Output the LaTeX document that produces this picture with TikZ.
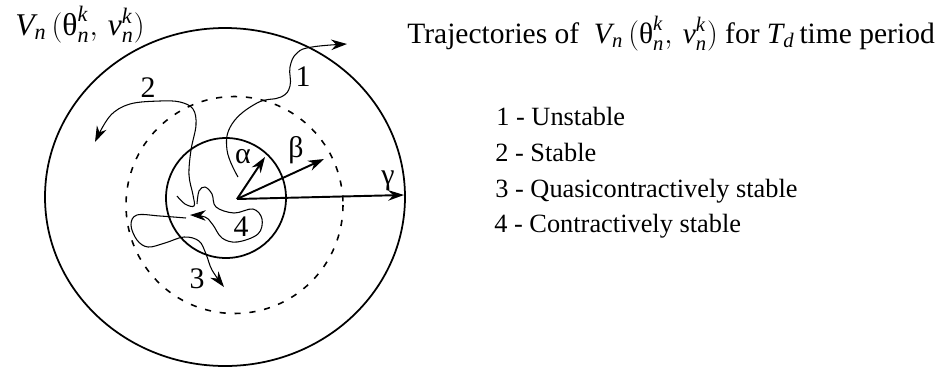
\documentclass[tikz,border=0pt]{standalone}
\usepackage{amsmath}
\usepackage{fontspec}
\setmainfont{Liberation Serif}
\usetikzlibrary{arrows.meta,positioning}

\tikzset{
  traj/.style={line width=0.6pt,-{Stealth[length=9pt,width=6pt]}},
  radarrow/.style={line width=1.1pt,-{Stealth[length=9pt,width=6pt]}},
  region/.style={line width=1pt},
  lbl/.style={font=\fontsize{15}{18}\selectfont,inner sep=0pt},
  biglbl/.style={font=\fontsize{17}{20}\selectfont,inner sep=0pt},
}
\newcommand{\Vfun}{$\mathit{V}_{\mathit{n}}\,(\text{θ}^{\mathit{k}}_{\mathit{n}},\,\mathit{v}^{\mathit{k}}_{\mathit{n}})$}

\begin{document}
\begin{tikzpicture}[x=0.02cm,y=-0.02cm]
  \useasboundingbox (0,0) rectangle (943,366);

  % regions
  \draw[region] (225,197) ellipse [x radius=180,y radius=169];
  \draw[region,line width=0.9pt,dash pattern=on 3.5pt off 5pt] (234.5,205) circle [radius=108.5];
  \draw[region] (226,198) circle [radius=60];

  % radii
  \coordinate (O) at (237,199);
  \coordinate (atip) at (265,157);
  \coordinate (btip) at (324,159);
  \coordinate (gtip) at (404,195);
  \draw[radarrow] (O) -- (atip);
  \draw[radarrow] (O) -- (btip);
  \draw[radarrow] (O) -- (gtip);
  \node[biglbl] (alpha) at (243,157) {α};
  \node[biglbl] (beta) at (296,150) {β};
  \node[biglbl] (gamma) at (388,181) {γ};

  % trajectories
  \draw[traj] plot[smooth,tension=0.7] coordinates {(238,177) (227,150) (232,124) (257,103) (281,97) (290,86) (290,67) (297,53) (312,47) (347,44)};
  \draw[traj] plot[smooth,tension=0.6] coordinates {(177,196) (185,204) (194,206) (193,195) (189,175) (191,150) (196,125) (193,109) (180,102) (160,101) (130,104) (110,116) (95,142)};
  \draw[traj] plot[smooth,tension=0.6] coordinates {(186,218) (160,216) (137,215) (131,225) (137,240) (148,247) (165,243) (184,237) (199,241) (206,254) (212,270) (224,287)};
  \draw[traj] plot[smooth,tension=0.6] coordinates {(197,204) (199,191) (205,187) (212,194) (216,207) (234,213) (253,209) (262,219) (258,234) (237,242) (222,238) (213,225) (205,217) (190,215)};
  \node[biglbl] (n1) at (303,77) {1};
  \node[biglbl] (n2) at (148,88) {2};
  \node[biglbl] (n3) at (197,279) {3};
  \node[biglbl] (n4) at (241,227) {4};

  % texts
  \node[biglbl,font=\fontsize{18}{21}\selectfont,anchor=base west] (vlabel) at (15,35) {\Vfun};
  \node[biglbl,font=\fontsize{16.8}{20}\selectfont,anchor=base west] (title) at (407,43) {Trajectories of \ \Vfun{} for $\mathit{T}_{\mathit{d}}$\,time period};
  \node[lbl,anchor=base west] (leg1) at (496,125) {1 - Unstable};
  \node[lbl,anchor=base west] (leg2) at (495,161) {2 - Stable};
  \node[lbl,anchor=base west] (leg3) at (495,197) {3 - Quasicontractively stable};
  \node[lbl,anchor=base west] (leg4) at (494,232) {4 - Contractively stable};
\end{tikzpicture}
\end{document}
